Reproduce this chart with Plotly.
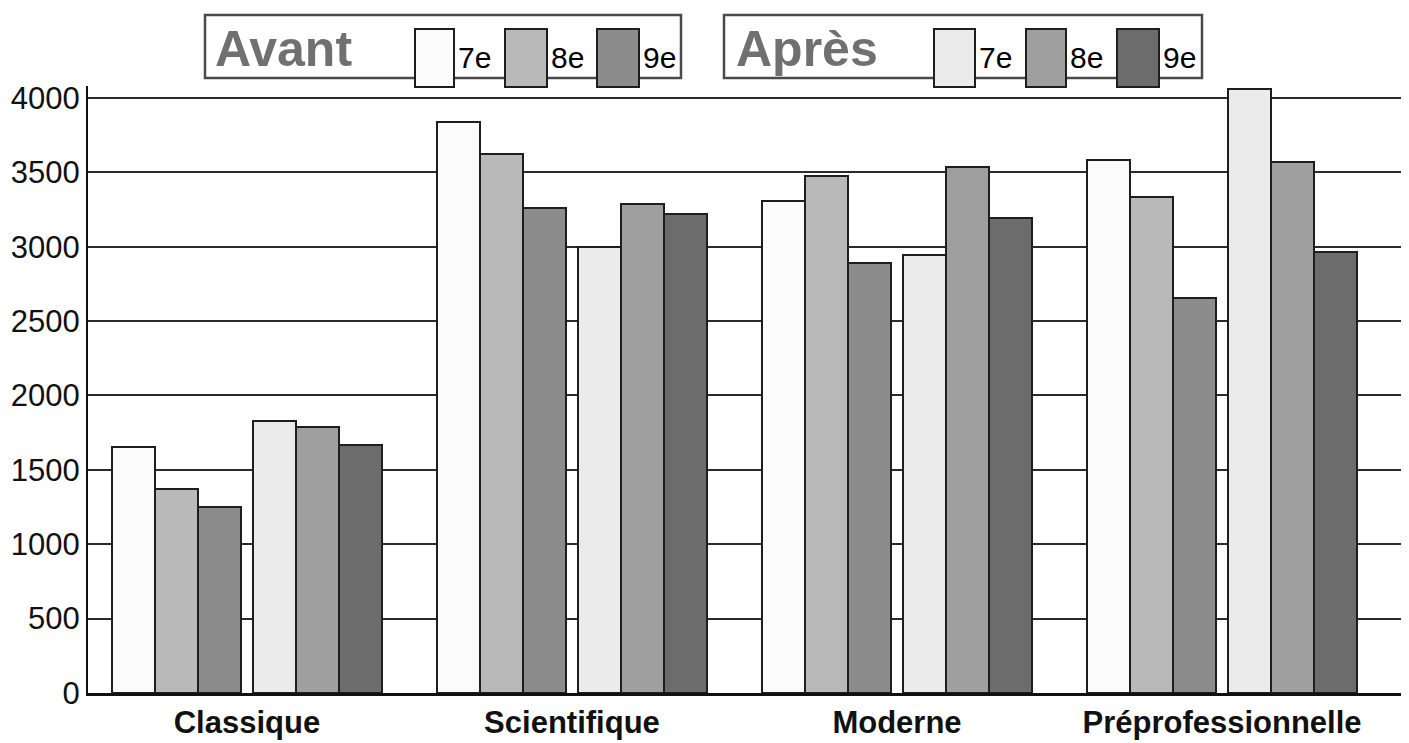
import plotly.graph_objects as go

categories = ["Classique", "Scientifique", "Moderne", "Préprofessionnelle"]
avant_7e = [1654, 3839, 3308, 3583]
avant_8e = [1371, 3624, 3476, 3334]
avant_9e = [1250, 3261, 2891, 2655]
apres_7e = [1829, 2998, 2945, 4061]
apres_8e = [1788, 3287, 3536, 3570]
apres_9e = [1667, 3220, 3193, 2965]
y_ticks = [0, 500, 1000, 1500, 2000, 2500, 3000, 3500, 4000]
grades = ["7e", "8e", "9e"]

# page body has an 8px margin; size the figure to fill the rest of the window
OFF = 8
W, H = 1409 - OFF, 743 - OFF
L, R, T, B = 80, 4, 78, 50
PW, PH = W - L - R, H - T - B

avant_colors = ["#fbfbfb", "#b9b9b9", "#8c8c8c"]
apres_colors = ["#ebebeb", "#9f9f9f", "#6c6c6c"]

bar_w = 0.132
avant_offsets = [-0.415, -0.283, -0.151]
apres_offsets = [0.018, 0.151, 0.283]

fig = go.Figure()
for vals, col, off in zip([avant_7e, avant_8e, avant_9e], avant_colors, avant_offsets):
    fig.add_trace(go.Bar(x=categories, y=vals, width=bar_w, offset=off,
                         marker=dict(color=col, line=dict(color="#1e1e1e", width=2)),
                         showlegend=False))
for vals, col, off in zip([apres_7e, apres_8e, apres_9e], apres_colors, apres_offsets):
    fig.add_trace(go.Bar(x=categories, y=vals, width=bar_w, offset=off,
                         marker=dict(color=col, line=dict(color="#1e1e1e", width=2)),
                         showlegend=False))


def px(x):
    return (x - OFF - L) / PW


def py(y):
    return (H - B - (y - OFF)) / PH


shapes = []
annotations = []
# legend boxes
for (x0, x1) in [(205, 681), (724, 1202)]:
    shapes.append(dict(type="rect", xref="paper", yref="paper",
                       x0=px(x0), x1=px(x1), y0=py(78), y1=py(15),
                       line=dict(color="#4a4a4a", width=2.5), fillcolor="white", layer="above"))

legend_specs = [
    ("Avant", 215, avant_colors, [(415, 454), (505, 547), (597, 639)]),
    ("Après", 736, apres_colors, [(934, 975), (1026, 1066), (1117, 1159)]),
]
for title, tx, cols, sw in legend_specs:
    annotations.append(dict(text=f"<b>{title}</b>", xref="paper", yref="paper",
                            x=px(tx - 2), y=py(49), xanchor="left", yanchor="middle",
                            showarrow=False, font=dict(size=50, color="#707070",
                                                       family="Liberation Sans")))
    for g, c, (a, b) in zip(grades, cols, sw):
        shapes.append(dict(type="rect", xref="paper", yref="paper",
                           x0=px(a), x1=px(b), y0=py(87), y1=py(29),
                           line=dict(color="#1e1e1e", width=2), fillcolor=c, layer="above"))
        annotations.append(dict(text=g, xref="paper", yref="paper",
                                x=px(b + 2), y=py(58), xanchor="left", yanchor="middle",
                                showarrow=False, font=dict(size=30, color="black",
                                                           family="Liberation Sans")))

fig.update_layout(
    width=W, height=H,
    margin=dict(l=L, r=R, t=T, b=B),
    paper_bgcolor="white", plot_bgcolor="white",
    bargap=0, barmode="overlay",
    shapes=shapes, annotations=annotations,
    font=dict(family="Liberation Sans", color="black"),
)
fig.update_xaxes(range=[-0.489, 3.563], showgrid=False, showline=True,
                 linecolor="#111", linewidth=2.5, ticks="", automargin=False,
                 tickfont=dict(size=31, weight="bold", color="#111"))
fig.update_yaxes(range=[0, 4080], tickvals=y_ticks, showgrid=True,
                 gridcolor="#2a2a2a", gridwidth=1.6, showline=True,
                 linecolor="#111", linewidth=2, ticks="", zeroline=False,
                 ticklabelstandoff=0, automargin=False,
                 tickfont=dict(size=31, color="#111"))

fig.write_html("out.html")
